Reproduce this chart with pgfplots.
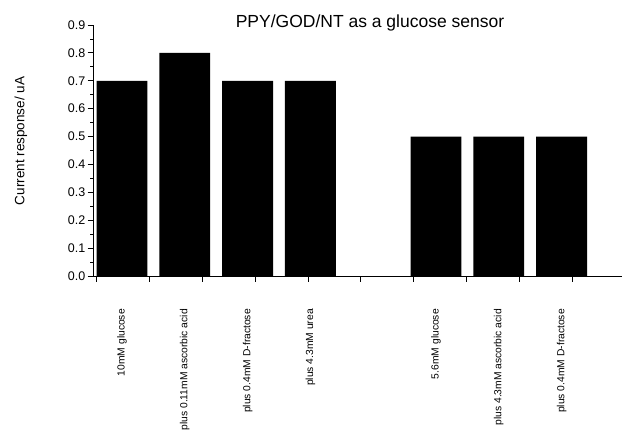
\documentclass[border=0pt]{standalone}
\usepackage{fontspec}
\setmainfont{Liberation Sans}
\usepackage{pgfplots}
\pgfplotsset{compat=1.18}
\begin{document}
\begin{tikzpicture}
\begin{axis}[
  name=ax,
  scale only axis, width=529pt, height=251pt,
  xmin=0.538, xmax=8.962, ymin=0, ymax=0.9,
  axis lines*=left,
  axis line style={line width=0.9pt},
  tick align=outside,
  /pgf/number format/assume math mode=true,
  ytick={0,0.1,0.2,0.3,0.4,0.5,0.6,0.7,0.8,0.9},
  yticklabel={\pgfmathprintnumber[fixed,fixed zerofill,precision=1]{\tick}},
  yticklabel style={font=\fontsize{12.5}{14}\selectfont, inner sep=2pt},
  minor y tick num=1,
  major tick length=5.5pt, minor tick length=3pt,
  tick style={line width=0.8pt, black},
  xtick={0.594,1.436,2.278,3.120,3.962,4.804,5.646,6.488,7.330,8.172},
  xticklabels={},
  extra x ticks={1,2,3,4,6,7,8},
  extra x tick labels={10mM glucose, plus 0.11mM ascorbic acid, plus 0.4mM D-fractose, plus 4.3mM urea, 5.6mM glucose, plus 4.3mM ascorbic acid, plus 0.4mM D-fractose},
  extra x tick style={major tick length=0pt, tick style={draw=none}},
  xticklabel style={rotate=90, anchor=east, inner sep=0pt, font=\fontsize{10.3}{12}\selectfont},
  xticklabel shift=33pt,
  ylabel={Current response/ uA},
  every axis y label/.style={at={(axis description cs:-0.1361,0.538)}, rotate=90, anchor=center, font=\fontsize{13.5}{15}\selectfont},
  title={PPY/GOD/NT as a glucose sensor},
  every axis title/.style={at={(axis description cs:0.5236,1)}, anchor=base, yshift=-2.5pt, inner sep=0pt, font=\fontsize{17.5}{20}\selectfont},
  ybar, bar width=0.81,
]
\addplot[fill=black, draw=none] coordinates {(1,0.7) (2,0.8) (3,0.7) (4,0.7) (6,0.5) (7,0.5) (8,0.5)};
\end{axis}
\pgfresetboundingbox
\path ([shift={(-93pt,25pt)}]ax.north west) rectangle ([shift={(2pt,-157pt)}]ax.south east);
\end{tikzpicture}
\end{document}
